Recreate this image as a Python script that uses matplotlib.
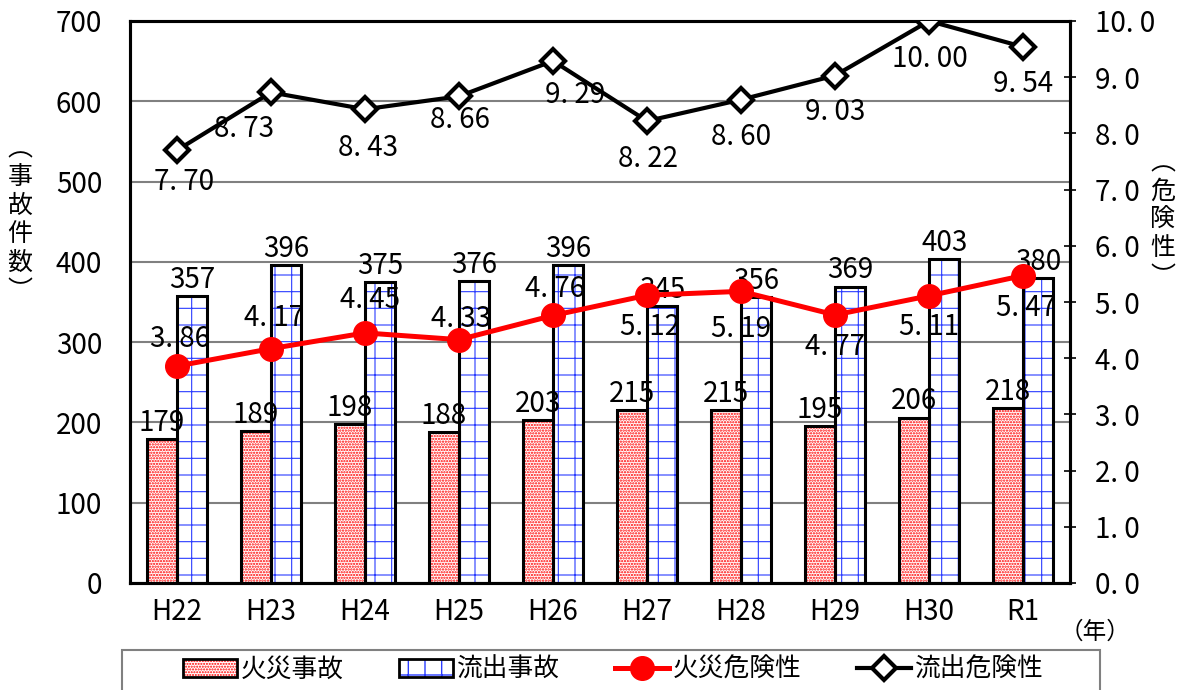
import matplotlib
matplotlib.use("Agg")
import matplotlib as mpl
import matplotlib.pyplot as plt
import numpy as np
from matplotlib.lines import Line2D
from matplotlib.patches import Patch, Rectangle

plt.rcParams['font.family'] = ['Liberation Sans Narrow', 'Noto Sans CJK JP', 'DejaVu Sans']

categories = ["H22", "H23", "H24", "H25", "H26", "H27", "H28", "H29", "H30", "R1"]
fire_accidents = [179, 189, 198, 188, 203, 215, 215, 195, 206, 218]
spill_accidents = [357, 396, 375, 376, 396, 345, 356, 369, 403, 380]
fire_risk = [3.86, 4.17, 4.45, 4.33, 4.76, 5.12, 5.19, 4.77, 5.11, 5.47]
spill_risk = [7.70, 8.73, 8.43, 8.66, 9.29, 8.22, 8.60, 9.03, 10.00, 9.54]
left_ticks = [0, 100, 200, 300, 400, 500, 600, 700]
right_ticks = [0, 1, 2, 3, 4, 5, 6, 7, 8, 9, 10]

# label offsets in pixels (dx, dy with +dy downward)
fire_lbl_dx = [3, 3, 5, 2, 2, 3, 0, 0, 0, 3]
fire_lbl_dy = [-27, -31, -33, -21, -26, 32, 38, 32, 31, 32]
spill_lbl_dx = [7, -27, 3, 1, 22, 1, 0, 0, 1, 0]
spill_lbl_dy = [32, 37, 39, 24, 34, 38, 37, 36, 38, 37]

W, H = 1182, 690
fig = plt.figure(figsize=(W / 100, H / 100), dpi=100)
ax = fig.add_axes([130 / W, (H - 583) / H, (1070 - 130) / W, (583 - 21) / H])
ax2 = ax.twinx()

x = np.arange(len(categories))
bw = 0.323
fire_hatch = '......'
spill_hatch = '+'
fire_col = '#ff0000'
spill_col = '#2a3cff'
fire_hlw = 1.1
spill_hlw = 0.8

# bars: hatch layer then outline
with mpl.rc_context({'hatch.linewidth': fire_hlw}):
    ax.bar(x - bw / 2, fire_accidents, bw, color='white', edgecolor=fire_col, hatch=fire_hatch,
           linewidth=0, zorder=2)
    fire_handle = Patch(facecolor='white', edgecolor=fire_col, hatch=fire_hatch, linewidth=0)
with mpl.rc_context({'hatch.linewidth': spill_hlw}):
    ax.bar(x + bw / 2, spill_accidents, bw, color='white', edgecolor=spill_col, hatch=spill_hatch,
           linewidth=0, zorder=2)
    spill_handle = Patch(facecolor='white', edgecolor=spill_col, hatch=spill_hatch, linewidth=0)
ax.bar(x - bw / 2, fire_accidents, bw, fill=False, edgecolor='black', linewidth=2.2, zorder=3)
ax.bar(x + bw / 2, spill_accidents, bw, fill=False, edgecolor='black', linewidth=2.2, zorder=3)

fs = 20
for i in range(len(x)):
    ax.annotate(str(fire_accidents[i]), (x[i] - bw / 2, fire_accidents[i]), xytext=(0, 1),
                textcoords='offset points', ha='center', va='bottom', fontsize=fs, zorder=5)
    ax.annotate(str(spill_accidents[i]), (x[i] + bw / 2, spill_accidents[i]), xytext=(0, 1),
                textcoords='offset points', ha='center', va='bottom', fontsize=fs, zorder=5)

ax.set_xlim(-0.5, len(categories) - 0.5)
ax.set_ylim(0, 700)
ax.set_yticks(left_ticks)
ax.set_yticklabels([str(t) for t in left_ticks], fontsize=fs)
ax.set_xticks(x)
ax.set_xticklabels(categories, fontsize=fs)
ax.tick_params(axis='x', length=0, pad=10)
ax.tick_params(axis='y', length=0, pad=20)
ax.yaxis.grid(True, color='#808080', linewidth=1.5, zorder=0)
ax.set_axisbelow(True)
for s in ax.spines.values():
    s.set_linewidth(2.2)
    s.set_color('black')

# lines on right axis
ax2.set_ylim(0, 10)
ax2.set_yticks(right_ticks)
ax2.set_yticklabels([f"{t:.1f}".replace('.', '. ') for t in right_ticks], fontsize=fs)
ax2.tick_params(axis='y', direction='inout', length=8, width=1.2, pad=14)
for s in ax2.spines.values():
    s.set_linewidth(2.2)

ax2.plot(x, fire_risk, color='#ff0000', linewidth=3.6, marker='o', markersize=17,
         markerfacecolor='#ff0000', markeredgecolor='#ff0000', zorder=4)
ax2.plot(x, spill_risk, color='black', linewidth=3.0, marker='D', markersize=12,
         markerfacecolor='white', markeredgecolor='black', markeredgewidth=3, zorder=4)

k = 0.72
for i in range(len(x)):
    ax2.annotate(f"{fire_risk[i]:.2f}".replace('.', '. '), (x[i], fire_risk[i]),
                 xytext=(fire_lbl_dx[i] * k, -fire_lbl_dy[i] * k), textcoords='offset points',
                 ha='center', va='center', fontsize=fs, zorder=6)
    ax2.annotate(f"{spill_risk[i]:.2f}".replace('.', '. '), (x[i], spill_risk[i]),
                 xytext=(spill_lbl_dx[i] * k, -spill_lbl_dy[i] * k), textcoords='offset points',
                 ha='center', va='center', fontsize=fs, zorder=6)

cjk = ['Noto Sans CJK JP', 'DejaVu Sans']
fig.text(20 / W, 1 - 220 / H, "︵\n事\n故\n件\n数\n︶", ha='center', va='center', fontsize=18,
         family=cjk, linespacing=1.12)
fig.text(1163 / W, 1 - 220 / H, "︵\n危\n険\n性\n︶", ha='center', va='center', fontsize=18,
         family=cjk, linespacing=1.12)
fig.text(1095 / W, 1 - 632 / H, "（年）", ha='center', va='center', fontsize=17, family=cjk)

# legend box
fig.patches.append(Rectangle((122 / W, -0.01), (1100 - 122) / W, (H - 650) / H + 0.01,
                             transform=fig.transFigure, facecolor='white', edgecolor='#808080',
                             linewidth=1.5, zorder=1))
handles = [
    (fire_handle, Patch(fill=False, edgecolor='black', linewidth=2)),
    (spill_handle, Patch(fill=False, edgecolor='black', linewidth=2)),
    Line2D([], [], color='#ff0000', linewidth=3.6, marker='o', markersize=17, markerfacecolor='#ff0000'),
    Line2D([], [], color='black', linewidth=3.0, marker='D', markersize=12,
           markerfacecolor='white', markeredgewidth=3),
]
labels = ["火災事故", "流出事故", "火災危険性", "流出危険性"]
leg = fig.legend(handles, labels, loc='center', bbox_to_anchor=(613 / W, 1 - 670 / H),
                 ncol=4, frameon=False, prop={'family': cjk, 'size': 18.5},
                 handlelength=2.1, handleheight=0.7, handletextpad=0.15,
                 borderpad=0.2, borderaxespad=0, columnspacing=2.15)
leg.set_zorder(2)

fig.savefig("out.png", dpi=100)
